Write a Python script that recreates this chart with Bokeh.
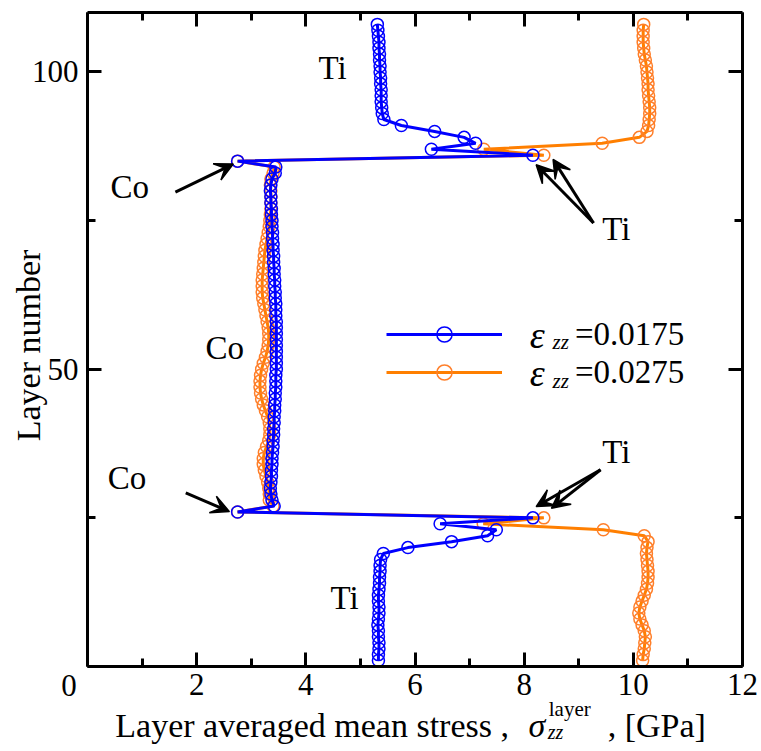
import math
from bokeh.plotting import figure
from bokeh.models import (FixedTicker, LinearAxis, Label, Arrow, VeeHead,
                          Legend, LegendItem, Range1d)
from bokeh.embed import file_html
from bokeh.resources import INLINE

# ---------------- data ----------------
layers = list(range(1, 109))

stress_0175 = [
    5.33, 5.33, 5.34, 5.34, 5.33, 5.33, 5.32, 5.33, 5.34, 5.34,
    5.33, 5.33, 5.34, 5.35, 5.35, 5.36, 5.36, 5.37,
    5.42, 5.87, 6.67, 7.33, 7.49, 6.46, 8.16, 2.75, 3.42,
    3.38, 3.36, 3.35, 3.36, 3.37, 3.37, 3.38, 3.38, 3.39, 3.40,
    3.40, 3.41, 3.41, 3.42, 3.42, 3.43, 3.43, 3.44, 3.44, 3.45,
    3.45, 3.45, 3.46, 3.46, 3.46, 3.46, 3.46, 3.46, 3.46, 3.46,
    3.46, 3.45, 3.45, 3.45, 3.44, 3.44, 3.43, 3.43, 3.42, 3.42,
    3.41, 3.41, 3.40, 3.40, 3.39, 3.39, 3.38, 3.38, 3.37, 3.37,
    3.36, 3.36, 3.35, 3.36, 3.38, 3.44, 3.45,
    2.75, 8.16, 6.30, 7.11, 6.90, 6.36, 5.75, 5.43,
    5.40, 5.39, 5.38, 5.38, 5.38, 5.37, 5.37, 5.36, 5.36, 5.35,
    5.35, 5.34, 5.34, 5.33, 5.32, 5.31,
]

stress_0275 = [
    10.17, 10.18, 10.20, 10.21, 10.22, 10.20, 10.16, 10.12, 10.10, 10.12,
    10.16, 10.20, 10.24, 10.26, 10.27, 10.27, 10.26, 10.25, 10.24, 10.25,
    10.27, 10.20, 9.45, 7.25, 8.36, 2.75, 3.40,
    3.33, 3.33, 3.32, 3.30, 3.27, 3.24, 3.22, 3.22, 3.24, 3.28,
    3.32, 3.34, 3.34, 3.33, 3.30, 3.26, 3.22, 3.19, 3.17, 3.16,
    3.16, 3.17, 3.19, 3.22, 3.26, 3.29, 3.31, 3.32, 3.32, 3.31,
    3.29, 3.27, 3.25, 3.23, 3.21, 3.20, 3.20, 3.20, 3.21, 3.22,
    3.23, 3.24, 3.25, 3.27, 3.29, 3.31, 3.33, 3.34, 3.35, 3.36,
    3.36, 3.36, 3.36, 3.35, 3.36, 3.40, 3.42,
    2.75, 8.36, 7.26, 9.43, 10.11, 10.25, 10.28, 10.29, 10.30, 10.30,
    10.29, 10.28, 10.27, 10.27, 10.26, 10.25, 10.24, 10.22, 10.20, 10.19,
    10.18, 10.18, 10.18, 10.19,
]

series_labels = ["=0.0175", "=0.0275"]
x_major_ticks = [0, 2, 4, 6, 8, 10, 12]
x_minor_ticks = [1, 3, 5, 7, 9, 11]
y_major_ticks = [0, 50, 100]
y_minor_ticks = [25, 75]
X_MIN, X_MAX = 0, 12
Y_MIN, Y_MAX = 0, 110

FONT = "Liberation Serif"
BLUE = "#0000ff"
ORANGE = "#ff7f00"
ORANGE_M = "#ff7f2a"

# ---------------- figure ----------------
# The frame covers the whole canvas; the plotting box (0..12 x 0..110) sits at
# pixels x 87..742, y 12..666, and the axes are pinned to its edges.
W, H = 761, 751
BOX_L, BOX_R, BOX_T, BOX_B = 87, 742, 12, 666
sx = (BOX_R - BOX_L) / (X_MAX - X_MIN)
sy = (BOX_B - BOX_T) / (Y_MAX - Y_MIN)
x_rng = Range1d(X_MIN - BOX_L / sx, X_MAX + (W - BOX_R) / sx)
y_rng = Range1d(Y_MIN - (H - BOX_B) / sy, Y_MAX + BOX_T / sy)

p = figure(width=W, height=H, output_backend="svg", toolbar_location=None,
           x_range=x_rng, y_range=y_rng,
           x_axis_location=None, y_axis_location=None,
           min_border=0, min_border_left=0, min_border_right=0,
           min_border_top=0, min_border_bottom=0)
p.title.visible = False
p.grid.visible = False
p.outline_line_color = None
p.background_fill_color = "white"
p.border_fill_color = "white"


def style_axis(ax, major, minor, bounds, loc, show_labels):
    ax.ticker = FixedTicker(ticks=major, minor_ticks=minor)
    ax.bounds = bounds
    ax.fixed_location = loc
    ax.axis_line_width = 3
    ax.axis_line_color = "black"
    ax.major_tick_in = 14
    ax.major_tick_out = 0
    ax.minor_tick_in = 8
    ax.minor_tick_out = 0
    ax.major_tick_line_width = 3
    ax.minor_tick_line_width = 3
    ax.major_label_text_font = FONT
    ax.major_label_text_font_size = "31px" if show_labels else "0px"
    ax.major_label_text_color = "black"
    ax.major_label_standoff = 7 if show_labels else 0


xb = LinearAxis()
style_axis(xb, x_major_ticks, x_minor_ticks, (X_MIN, X_MAX), Y_MIN, True)
xb.major_label_overrides = {0: ""}
p.add_layout(xb, "below")

yl = LinearAxis()
style_axis(yl, y_major_ticks, y_minor_ticks, (Y_MIN, Y_MAX), X_MIN, True)
yl.major_label_standoff = 9
yl.major_label_overrides = {0: ""}
p.add_layout(yl, "left")

xt = LinearAxis()
style_axis(xt, x_major_ticks, x_minor_ticks, (X_MIN, X_MAX), Y_MAX, False)
xt.major_label_overrides = {t: "" for t in x_major_ticks}
p.add_layout(xt, "above")

yr = LinearAxis()
style_axis(yr, y_major_ticks, y_minor_ticks, (Y_MIN, Y_MAX), X_MAX, False)
yr.major_label_overrides = {t: "" for t in y_major_ticks}
p.add_layout(yr, "right")

# ---------------- series ----------------
ro_line = p.line(stress_0275, layers, line_color=ORANGE, line_width=3)
ro_pts = p.scatter(stress_0275, layers, marker="circle", size=12,
                   fill_color=None, line_color=ORANGE_M, line_width=1.5)
rb_line = p.line(stress_0175, layers, line_color=BLUE, line_width=3)
rb_pts = p.scatter(stress_0175, layers, marker="circle", size=12,
                   fill_color=None, line_color=BLUE, line_width=1.5)

legend = Legend(items=[LegendItem(label=series_labels[0], renderers=[rb_line, rb_pts]),
                       LegendItem(label=series_labels[1], renderers=[ro_line, ro_pts])],
                location=(386, 360), orientation="vertical",
                glyph_width=116, glyph_height=38, label_height=38,
                label_standoff=73, spacing=0, padding=0, margin=0,
                border_line_color=None, background_fill_alpha=0,
                label_text_font=FONT, label_text_font_size="33px",
                label_text_color="black")
p.add_layout(legend)

DY = 2.0  # correction for the alphabetic baseline of Label text


def mk(x, y, s, size="33px", style="normal", align="left", baseline="alphabetic", angle=0.0):
    if baseline == "alphabetic":
        y = y + DY
    return Label(x=x, y=y, text=s, text_font=FONT, text_font_size=size,
                 text_font_style=style, text_align=align,
                 text_baseline=baseline, angle=angle, text_color="black")


# legend symbol parts (epsilon with zz subscript)
for yb, ys in [(53.8, 52.5), (47.4, 46.1)]:
    p.add_layout(mk(8.10, yb, "ε", size="38px", style="italic"))
    p.add_layout(mk(8.52, ys, "zz", size="21px", style="italic"))

# ---------------- annotations ----------------
p.add_layout(mk(4.23, 98.7, "Ti"))
p.add_layout(mk(0.42, 78.7, "Co"))
p.add_layout(mk(2.16, 51.6, "Co"))
p.add_layout(mk(0.37, 29.7, "Co"))
p.add_layout(mk(4.45, 9.6, "Ti"))
p.add_layout(mk(9.43, 71.6, "Ti"))
p.add_layout(mk(9.43, 34.0, "Ti"))

arrows = [
    ((1.61, 79.8), (2.67, 84.5)),
    ((9.27, 74.6), (8.22, 84.4)),
    ((9.27, 74.6), (8.53, 85.3)),
    ((1.80, 29.2), (2.60, 26.05)),
    ((9.40, 33.1), (8.22, 26.9)),
    ((9.40, 33.1), (8.50, 26.6)),
]
for (x0, y0), (x1, y1) in arrows:
    p.add_layout(Arrow(x_start=x0, y_start=y0, x_end=x1, y_end=y1,
                       line_width=3, line_color="black",
                       end=VeeHead(size=18, fill_color="black", line_color="black",
                                   line_width=1.5)))

# axis titles / zero tick label
p.add_layout(mk(-0.34, -1.35, "0", size="31px", align="center", baseline="top"))
p.add_layout(mk(-1.08, 54.0, "Layer number", size="34px", align="center",
                baseline="middle", angle=math.pi / 2))
p.add_layout(mk(0.51, -11.94, "Layer averaged mean stress ,", size="34px"))
p.add_layout(mk(8.08, -11.94, "σ", size="34px", style="italic"))
p.add_layout(mk(8.45, -9.08, "layer", size="21px"))
p.add_layout(mk(8.43, -13.1, "zz", size="20px", style="italic"))
p.add_layout(mk(9.53, -11.94, ", [GPa]", size="34px"))

open("out.html", "w").write(file_html(p, INLINE))
